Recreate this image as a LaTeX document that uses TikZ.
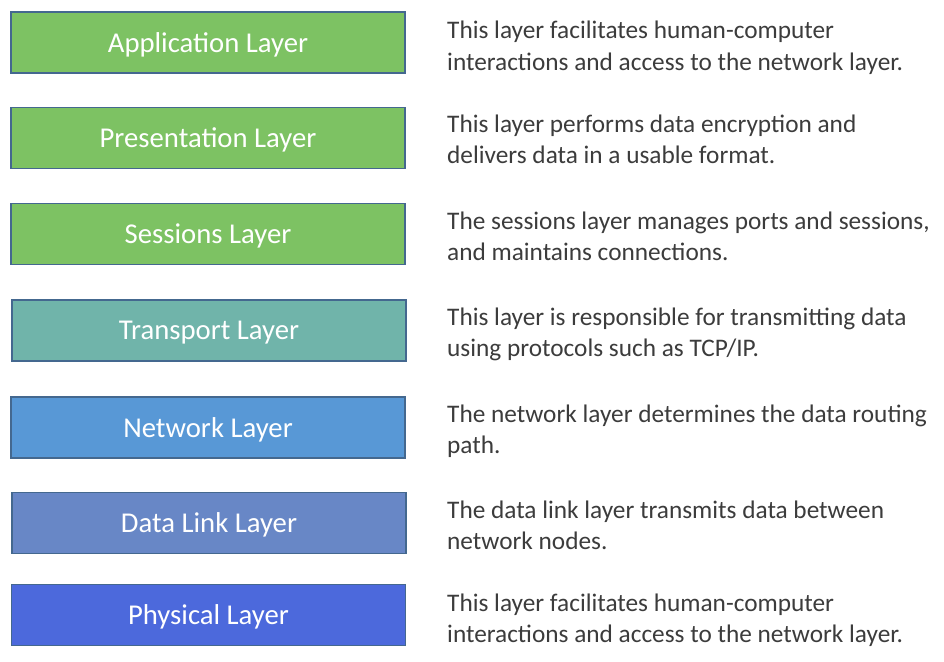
\documentclass[tikz,border=0pt]{standalone}
\usepackage{fontspec}
\setmainfont{Carlito}
\definecolor{bordc}{HTML}{44688F}
\definecolor{greenc}{HTML}{7DC263}
\definecolor{tealc}{HTML}{70B4AA}
\definecolor{netc}{HTML}{5898D6}
\definecolor{linkc}{HTML}{6887C6}
\definecolor{physc}{HTML}{4C69DC}
\definecolor{txtc}{HTML}{3C3C3C}
\tikzset{
  layerbox/.style={draw=bordc, line width=1.6pt, minimum width=394pt, minimum height=61pt, inner sep=0pt, text=white, font=\fontsize{28.7}{32}\selectfont},
  layerlabel/.style={text=white, inner sep=0pt, font=\fontsize{28.7}{32}\selectfont, yshift=-2pt},
  desc/.style={anchor=north west, inner sep=0pt, align=left, text=txtc, font=\fontsize{25.3}{31.3}\selectfont}
}
\begin{document}
\begin{tikzpicture}[x=1pt,y=-1pt]
\useasboundingbox (0,0) rectangle (944,661);
\fill[white] (0,0) rectangle (944,661);
\node[layerbox, fill=greenc] (app) at (208,42.5) {};
\node[layerbox, fill=greenc] (pres) at (208,138) {};
\node[layerbox, fill=greenc] (sess) at (208,234) {};
\node[layerbox, fill=tealc] (trans) at (209,330.5) {};
\node[layerbox, fill=netc] (net) at (208,427.5) {};
\node[layerbox, fill=linkc] (link) at (209,523) {};
\node[layerbox, fill=physc] (phys) at (208.5,615) {};
\node[layerlabel] (lapp) at (app) {Application Layer};
\node[layerlabel] (lpres) at (pres) {Presentation Layer};
\node[layerlabel] (lsess) at (sess) {Sessions Layer};
\node[layerlabel] (ltrans) at (trans) {Transport Layer};
\node[layerlabel] (lnet) at (net) {Network Layer};
\node[layerlabel] (llink) at (link) {Data Link Layer};
\node[layerlabel] (lphys) at (phys) {Physical Layer};
\node[desc] (dapp) at (447,21) {This layer facilitates human-computer\\interactions and access to the network layer.};
\node[desc] (dpres) at (447,114.3) {This layer performs data encryption and\\delivers data in a usable format.};
\node[desc] (dsess) at (447,211.3) {The sessions layer manages ports and sessions,\\and maintains connections.};
\node[desc] (dtrans) at (447,307.3) {This layer is responsible for transmitting data\\using protocols such as TCP/IP.};
\node[desc] (dnet) at (447,404.3) {The network layer determines the data routing\\path.};
\node[desc] (dlink) at (447,500.3) {The data link layer transmits data between\\network nodes.};
\node[desc] (dphys) at (447,593.3) {This layer facilitates human-computer\\interactions and access to the network layer.};
\end{tikzpicture}
\end{document}
